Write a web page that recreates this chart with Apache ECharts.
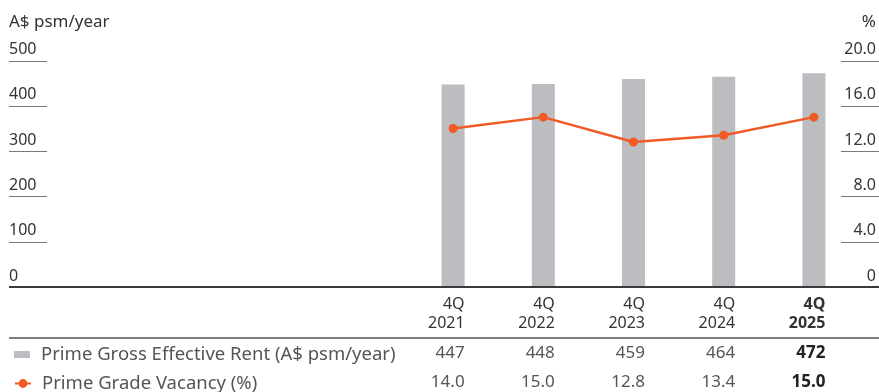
<!DOCTYPE html>
<html>
<head>
<meta charset="utf-8">
<script src="https://cdn.jsdelivr.net/npm/echarts@6/dist/echarts.min.js"></script>
<style>
  html, body { margin: 0; padding: 0; background: #ffffff; }
  #chart { width: 879px; height: 392px; }
</style>
</head>
<body>
<div id="chart"></div>
<script>
// Office market: prime rents (bars, left axis) and vacancy (line, right axis)
const quarters = ['4Q', '4Q', '4Q', '4Q', '4Q'];
const years = ['2021', '2022', '2023', '2024', '2025'];
const rent = [447, 448, 459, 464, 472];
const vacancy = [14.0, 15.0, 12.8, 13.4, 15.0];

const rentTicks = [0, 100, 200, 300, 400, 500];
const vacancyTicks = [0, 4, 8, 12, 16, 20];

const rentName = 'Prime Gross Effective Rent (A$ psm/year)';
const vacancyName = 'Prime Grade Vacancy (%)';
const leftUnit = 'A$ psm/year';
const rightUnit = '%';

const FONT = '"Noto Sans", "DejaVu Sans", sans-serif';
const BAR_COLOR = '#bcbdc0';
const LINE_COLOR = '#f15a24';
const BAR_W = 23;
const highlightIndex = years.length - 1;

const categories = years.map((y, i) => quarters[i] + ' ' + y);

const chart = echarts.init(document.getElementById('chart'), null, { renderer: 'canvas' });

function legendRow(name, top, icon, iconH) {
  const item = { name: name };
  if (icon) item.icon = icon;
  return {
    orient: 'horizontal',
    left: 9,
    top: top,
    itemWidth: 16,
    itemHeight: iconH,
    selectedMode: false,
    textStyle: { fontFamily: FONT, fontSize: 18.5, color: '#555555', padding: [0, 0, 0, 6] },
    data: [item]
  };
}

const option = {
  animation: false,
  backgroundColor: '#ffffff',
  textStyle: { fontFamily: FONT },
  grid: { left: 408, right: 17, top: 60.5, bottom: 105, containLabel: false },
  legend: [
    legendRow(rentName, 340, 'rect', 7),
    legendRow(vacancyName, 369, null, 11)
  ],
  xAxis: {
    type: 'category',
    data: categories,
    axisLine: { show: false },
    axisTick: { show: false },
    axisLabel: { show: false },
    splitLine: { show: false }
  },
  yAxis: [
    {
      type: 'value',
      min: rentTicks[0], max: rentTicks[rentTicks.length - 1], interval: 100,
      position: 'left',
      offset: 399,
      name: leftUnit,
      nameLocation: 'end',
      nameGap: 38,
      nameTextStyle: { fontFamily: FONT, fontSize: 17, color: '#333333', align: 'left', verticalAlign: 'middle' },
      axisLine: { show: false },
      axisTick: { show: false },
      splitLine: { show: false },
      axisLabel: {
        inside: true, margin: 0, align: 'left', verticalAlign: 'bottom',
        padding: [0, 0, 3, 0],
        fontFamily: FONT, fontSize: 16, color: '#333333'
      }
    },
    {
      type: 'value',
      min: vacancyTicks[0], max: vacancyTicks[vacancyTicks.length - 1], interval: 4,
      position: 'right',
      offset: 17,
      name: rightUnit,
      nameLocation: 'end',
      nameGap: 38,
      nameTextStyle: { fontFamily: FONT, fontSize: 17, color: '#333333', align: 'right', verticalAlign: 'middle' },
      axisLine: { show: false },
      axisTick: { show: false },
      splitLine: { show: false },
      axisLabel: {
        inside: true, margin: 0, align: 'right', verticalAlign: 'bottom',
        padding: [0, 0, 3, 0],
        fontFamily: FONT, fontSize: 16, color: '#333333',
        formatter: v => (v === 0 ? '0' : v.toFixed(1))
      }
    }
  ],
  series: [
    {
      name: rentName,
      type: 'bar',
      yAxisIndex: 0,
      data: rent,
      barWidth: BAR_W,
      itemStyle: { color: BAR_COLOR },
      z: 2
    },
    {
      name: vacancyName,
      type: 'line',
      yAxisIndex: 1,
      data: vacancy,
      symbol: 'circle',
      symbolSize: 9,
      lineStyle: { color: LINE_COLOR, width: 2.5 },
      itemStyle: { color: LINE_COLOR },
      z: 3
    }
  ]
};

chart.setOption(option);

function txt(x, y, text, size, color, bold) {
  return {
    type: 'text', x: x, y: y, silent: true, z: 10,
    style: {
      text: text,
      font: (bold ? 'bold ' : '') + size + 'px ' + FONT,
      fill: color,
      align: 'right', verticalAlign: 'middle',
      textAlign: 'right', textVerticalAlign: 'middle'
    }
  };
}

function hline(x1, x2, y, color, width) {
  return {
    type: 'line', silent: true, z: 9,
    shape: { x1: x1, y1: y, x2: x2, y2: y },
    style: { stroke: color, lineWidth: width }
  };
}

const zeroY = chart.convertToPixel({ yAxisIndex: 0 }, 0);
const elements = [];

// short rules under each axis label
rentTicks.slice(1).forEach(v => {
  const y = Math.round(chart.convertToPixel({ yAxisIndex: 0 }, v)) + 0.5;
  elements.push(hline(9, 47, y, '#7a7a7a', 1));
});
vacancyTicks.slice(1).forEach(v => {
  const y = Math.round(chart.convertToPixel({ yAxisIndex: 1 }, v)) + 0.5;
  elements.push(hline(841, 879, y, '#7a7a7a', 1));
});

// baseline across the full width and the rule under the column headings
elements.push(hline(9, 879, zeroY, '#3a3a3a', 2));
elements.push(hline(9, 879, zeroY + 51, '#555555', 1.5));

// table of values under the plot, aligned to each bar's right edge
categories.forEach((c, i) => {
  const cx = chart.convertToPixel({ xAxisIndex: 0 }, i);
  const rx = cx + BAR_W / 2;
  const bold = i === highlightIndex;
  elements.push(txt(rx, zeroY + 17, quarters[i], 16, '#333333', bold));
  elements.push(txt(rx, zeroY + 36, years[i], 16, '#333333', bold));
  elements.push(txt(rx, zeroY + 66, String(rent[i]), 17, bold ? '#222222' : '#555555', bold));
  elements.push(txt(rx, zeroY + 95, vacancy[i].toFixed(1), 17, bold ? '#222222' : '#555555', bold));
});

chart.setOption({ graphic: { elements: elements } });
</script>
</body>
</html>
